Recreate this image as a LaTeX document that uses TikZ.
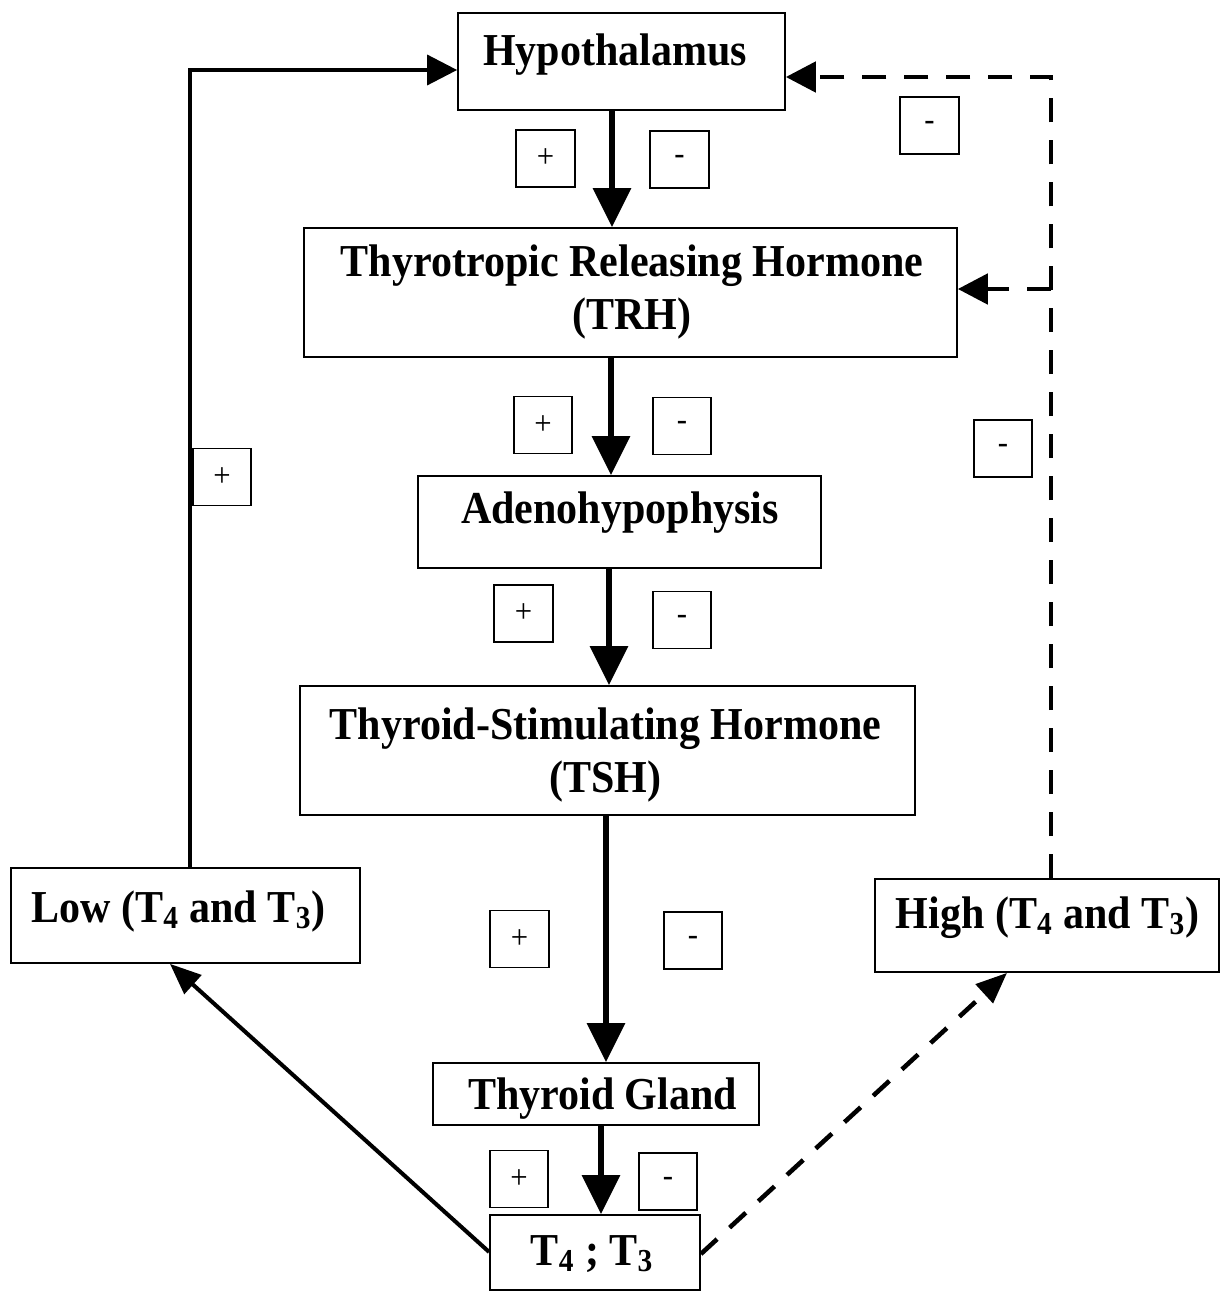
\documentclass[tikz,border=0pt]{standalone}
\usepackage{fontspec}
\setmainfont{Liberation Serif}[FakeStretch=0.92]
\usetikzlibrary{arrows.meta}
\begin{document}
\begin{tikzpicture}[x=0.02cm,y=-0.02cm,
  box/.style={draw, line width=1pt, inner sep=0pt},
  lbl/.style={font=\fontsize{26}{30}\selectfont\bfseries, align=center, inner sep=0pt},
  sgn/.style={draw, line width=0.9pt, minimum width=1.17cm, minimum height=1.14cm, inner sep=0pt, font=\fontsize{19}{21}\selectfont},
  mainarr/.style={line width=3.4pt, -{Triangle[length=0.78cm,width=0.74cm]}},
  leftarr/.style={line width=2pt, -{Triangle[length=0.6cm,width=0.6cm]}},
  fbarr/.style={line width=2.8pt, dash pattern=on 0.48cm off 0.36cm, -{Triangle[length=0.6cm,width=0.6cm]}},
  diagarr/.style={line width=2.3pt, -{Triangle[length=0.62cm,width=0.5cm]}},
  fbdiag/.style={line width=2.6pt, dash pattern=on 0.44cm off 0.34cm, -{Triangle[length=0.62cm,width=0.5cm]}}
]
\useasboundingbox (0,0) rectangle (1220,1291);

% boxes
\node[box, minimum width=6.54cm, minimum height=1.94cm] (hyp) at (621.5,61.5) {};
\node[box, minimum width=13.06cm, minimum height=2.58cm] (trh) at (630.5,292.5) {};
\node[box, minimum width=8.06cm, minimum height=1.84cm] (adeno) at (619.5,522) {};
\node[box, minimum width=12.3cm, minimum height=2.58cm] (tsh) at (607.5,750.5) {};
\node[box, minimum width=6.52cm, minimum height=1.24cm] (thy) at (596,1094) {};
\node[box, minimum width=4.2cm, minimum height=1.5cm] (t4) at (595,1252.5) {};
\node[box, minimum width=6.98cm, minimum height=1.9cm] (low) at (185.5,915.5) {};
\node[box, minimum width=6.88cm, minimum height=1.86cm] (high) at (1047,925.5) {};

% texts
\node[lbl, anchor=base] (hypT) at (615,66) {Hypothalamus};
\node[lbl] (trhT) at (632,292) {Thyrotropic Releasing Hormone\\(TRH)};
\node[lbl, anchor=base] (adT) at (620,523) {Adenohypophysis};
\node[lbl] (tshT) at (605.5,755) {Thyroid-Stimulating Hormone\\(TSH)};
\node[lbl, anchor=base] (thyT) at (602.5,1109) {Thyroid Gland};
\node[lbl, anchor=base] (t4T) at (592,1265) {T\textsubscript{4} ; T\textsubscript{3}};
\node[lbl, anchor=base] (lowT) at (178.5,922) {Low (T\textsubscript{4} and T\textsubscript{3})};
\node[lbl, anchor=base] (highT) at (1047.5,928) {High (T\textsubscript{4} and T\textsubscript{3})};

% sign boxes
\node[sgn] (p1) at (545.5,158.5) {+};
\node[sgn] (m1) at (679.5,159.5) {-};
\node[sgn] (p2) at (543,425) {+};
\node[sgn] (m2) at (682,426) {-};
\node[sgn] (p3) at (523.5,613.5) {+};
\node[sgn] (m3) at (682,620) {-};
\node[sgn] (p4) at (519.5,939) {+};
\node[sgn] (m4) at (693,940.5) {-};
\node[sgn] (p5) at (519,1179) {+};
\node[sgn] (m5) at (668,1181.5) {-};
\node[sgn] (pl) at (222,477) {+};
\node[sgn] (mr1) at (929.5,125.5) {-};
\node[sgn] (mr2) at (1003,448.5) {-};

% main chain
\draw[mainarr] (612,0 |- hyp.south) -- (612,0 |- trh.north);
\draw[mainarr] (611,0 |- trh.south) -- (611,0 |- adeno.north);
\draw[mainarr] (609,0 |- adeno.south) -- (609,0 |- tsh.north);
\draw[mainarr] (606,0 |- tsh.south) -- (606,0 |- thy.north);
\draw[mainarr] (601,0 |- thy.south) -- (601,0 |- t4.north);

% feedback loops
\draw[leftarr] (190,0 |- low.north) |- (hyp.west |- 0,70);
\draw[fbarr] (1051,0 |- high.north) |- (hyp.east |- 0,77);
\coordinate (br) at (1051,289);
\draw[fbarr] (br) -- (trh.east |- br);

% diagonals
\draw[diagarr] (t4.west |- 0,1252) -- (170,0 |- low.south);
\draw[fbdiag] (t4.east |- 0,1254) -- (1007,0 |- high.south);
\end{tikzpicture}
\end{document}
